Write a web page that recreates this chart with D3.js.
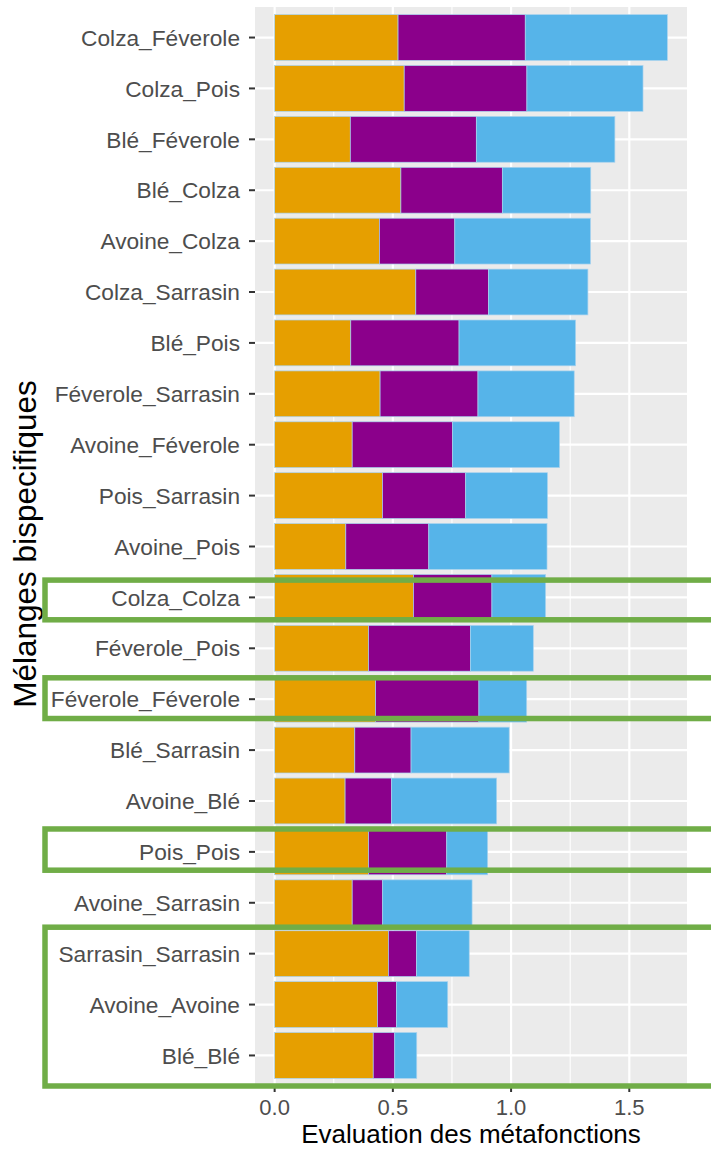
<!DOCTYPE html>
<html lang="fr">
<head>
<meta charset="utf-8">
<script src="https://cdn.jsdelivr.net/npm/d3@7"></script>
<style>
  body { margin: 0; background: #fff; }
  svg { display: block; font-family: "Liberation Sans", Arial, sans-serif; }
</style>
</head>
<body>
<div id="chart"></div>
<script>
// categories, top to bottom
const categories = [
  "Colza_Féverole", "Colza_Pois", "Blé_Féverole", "Blé_Colza", "Avoine_Colza",
  "Colza_Sarrasin", "Blé_Pois", "Féverole_Sarrasin", "Avoine_Féverole", "Pois_Sarrasin",
  "Avoine_Pois", "Colza_Colza", "Féverole_Pois", "Féverole_Féverole", "Blé_Sarrasin",
  "Avoine_Blé", "Pois_Pois", "Avoine_Sarrasin", "Sarrasin_Sarrasin", "Avoine_Avoine", "Blé_Blé"
];
// three stacked parts (orange, purple, blue)
const part1 = [0.522, 0.548, 0.320, 0.534, 0.443, 0.597, 0.322, 0.446, 0.328, 0.456,
               0.301, 0.587, 0.397, 0.427, 0.339, 0.298, 0.397, 0.328, 0.481, 0.435, 0.417];
const part2 = [0.538, 0.519, 0.533, 0.429, 0.319, 0.308, 0.458, 0.414, 0.425, 0.352,
               0.351, 0.332, 0.431, 0.437, 0.238, 0.197, 0.331, 0.129, 0.119, 0.080, 0.091];
const part3 = [0.601, 0.491, 0.586, 0.374, 0.574, 0.420, 0.493, 0.407, 0.452, 0.346,
               0.500, 0.227, 0.266, 0.202, 0.415, 0.444, 0.173, 0.378, 0.223, 0.217, 0.093];
const xTicks = [0, 0.5, 1.0, 1.5];
const xMinor = [0.25, 0.75, 1.25];
const highlighted = [["Colza_Colza", "Colza_Colza"], ["Féverole_Féverole", "Féverole_Féverole"],
                     ["Pois_Pois", "Pois_Pois"], ["Sarrasin_Sarrasin", "Blé_Blé"]];
const colors = ["#E69F00", "#8B008B", "#56B4E9"];

const width = 711, height = 1149;
const panel = { left: 255, right: 687, top: 7, bottom: 1086 };

const svg = d3.select("#chart").append("svg")
    .attr("width", width)
    .attr("height", height);

// stack the data
const rows = categories.map((c, i) => ({ cat: c, p0: part1[i], p1: part2[i], p2: part3[i] }));
const series = d3.stack().keys(["p0", "p1", "p2"])(rows);
const maxTotal = d3.max(rows, d => d.p0 + d.p1 + d.p2);
const pad = maxTotal * 0.05;

const x = d3.scaleLinear()
    .domain([-pad, maxTotal + pad])
    .range([panel.left, panel.right]);

const y = d3.scalePoint()
    .domain(categories)
    .range([panel.top, panel.bottom])
    .padding(0.6);
const step = y.step();
const barH = step * 0.9;

// panel background
svg.append("rect")
    .attr("x", panel.left).attr("y", panel.top)
    .attr("width", panel.right - panel.left)
    .attr("height", panel.bottom - panel.top)
    .attr("fill", "#EBEBEB");

// grid
svg.append("g").selectAll("line")
    .data(xMinor)
    .enter().append("line")
    .attr("x1", d => x(d)).attr("x2", d => x(d))
    .attr("y1", panel.top).attr("y2", panel.bottom)
    .attr("stroke", "#fff").attr("stroke-width", 1.1);

svg.append("g").selectAll("line")
    .data(xTicks)
    .enter().append("line")
    .attr("x1", d => x(d)).attr("x2", d => x(d))
    .attr("y1", panel.top).attr("y2", panel.bottom)
    .attr("stroke", "#fff").attr("stroke-width", 2.2);

svg.append("g").selectAll("line")
    .data(categories)
    .enter().append("line")
    .attr("x1", panel.left).attr("x2", panel.right)
    .attr("y1", d => y(d)).attr("y2", d => y(d))
    .attr("stroke", "#fff").attr("stroke-width", 2.2);

// bars
svg.append("g").selectAll("g")
    .data(series)
    .enter().append("g")
    .attr("fill", (d, i) => colors[i])
    .selectAll("rect")
    .data(d => d)
    .enter().append("rect")
    .attr("x", d => x(d[0]))
    .attr("width", d => x(d[1]) - x(d[0]))
    .attr("y", d => y(d.data.cat) - barH / 2)
    .attr("height", barH)
    .attr("stroke", "#a9d3ee")
    .attr("stroke-width", 0.7);

// y axis
const yAxis = svg.append("g");
yAxis.selectAll("line")
    .data(categories)
    .enter().append("line")
    .attr("x1", panel.left - 6).attr("x2", panel.left)
    .attr("y1", d => y(d)).attr("y2", d => y(d))
    .attr("stroke", "#333").attr("stroke-width", 2);
yAxis.selectAll("text")
    .data(categories)
    .enter().append("text")
    .attr("x", panel.left - 15)
    .attr("y", d => y(d))
    .attr("dy", "0.36em")
    .attr("text-anchor", "end")
    .attr("fill", "#4D4D4D")
    .attr("font-size", 22.7)
    .text(d => d);

// x axis
const xAxis = svg.append("g");
xAxis.selectAll("line")
    .data(xTicks)
    .enter().append("line")
    .attr("x1", d => x(d)).attr("x2", d => x(d))
    .attr("y1", panel.bottom).attr("y2", panel.bottom + 6)
    .attr("stroke", "#333").attr("stroke-width", 2);
xAxis.selectAll("text")
    .data(xTicks)
    .enter().append("text")
    .attr("x", d => x(d))
    .attr("y", 1115)
    .attr("text-anchor", "middle")
    .attr("fill", "#4D4D4D")
    .attr("font-size", 22)
    .text(d3.format(".1f"));

// titles
svg.append("text")
    .attr("x", (panel.left + panel.right) / 2)
    .attr("y", 1143)
    .attr("text-anchor", "middle")
    .attr("font-size", 26)
    .attr("fill", "#000")
    .text("Evaluation des métafonctions");

svg.append("text")
    .attr("transform", "translate(36,544) rotate(-90)")
    .attr("text-anchor", "middle")
    .attr("font-size", 31.5)
    .attr("fill", "#000")
    .text("Mélanges bispecifiques");

// green highlight boxes (hand drawn, so the margins differ a little)
const boxTop = [0.34, 0.42, 0.45, 0.52];
const boxBottom = [0.44, 0.38, 0.36, 0.6];
svg.append("g").selectAll("rect")
    .data(highlighted)
    .enter().append("rect")
    .attr("x", 45)
    .attr("width", 700)
    .attr("y", (d, i) => y(d[0]) - step * boxTop[i])
    .attr("height", (d, i) => y(d[1]) - y(d[0]) + step * (boxTop[i] + boxBottom[i]))
    .attr("fill", "none")
    .attr("stroke", "#70AD47")
    .attr("stroke-width", 5.5);
</script>
</body>
</html>
